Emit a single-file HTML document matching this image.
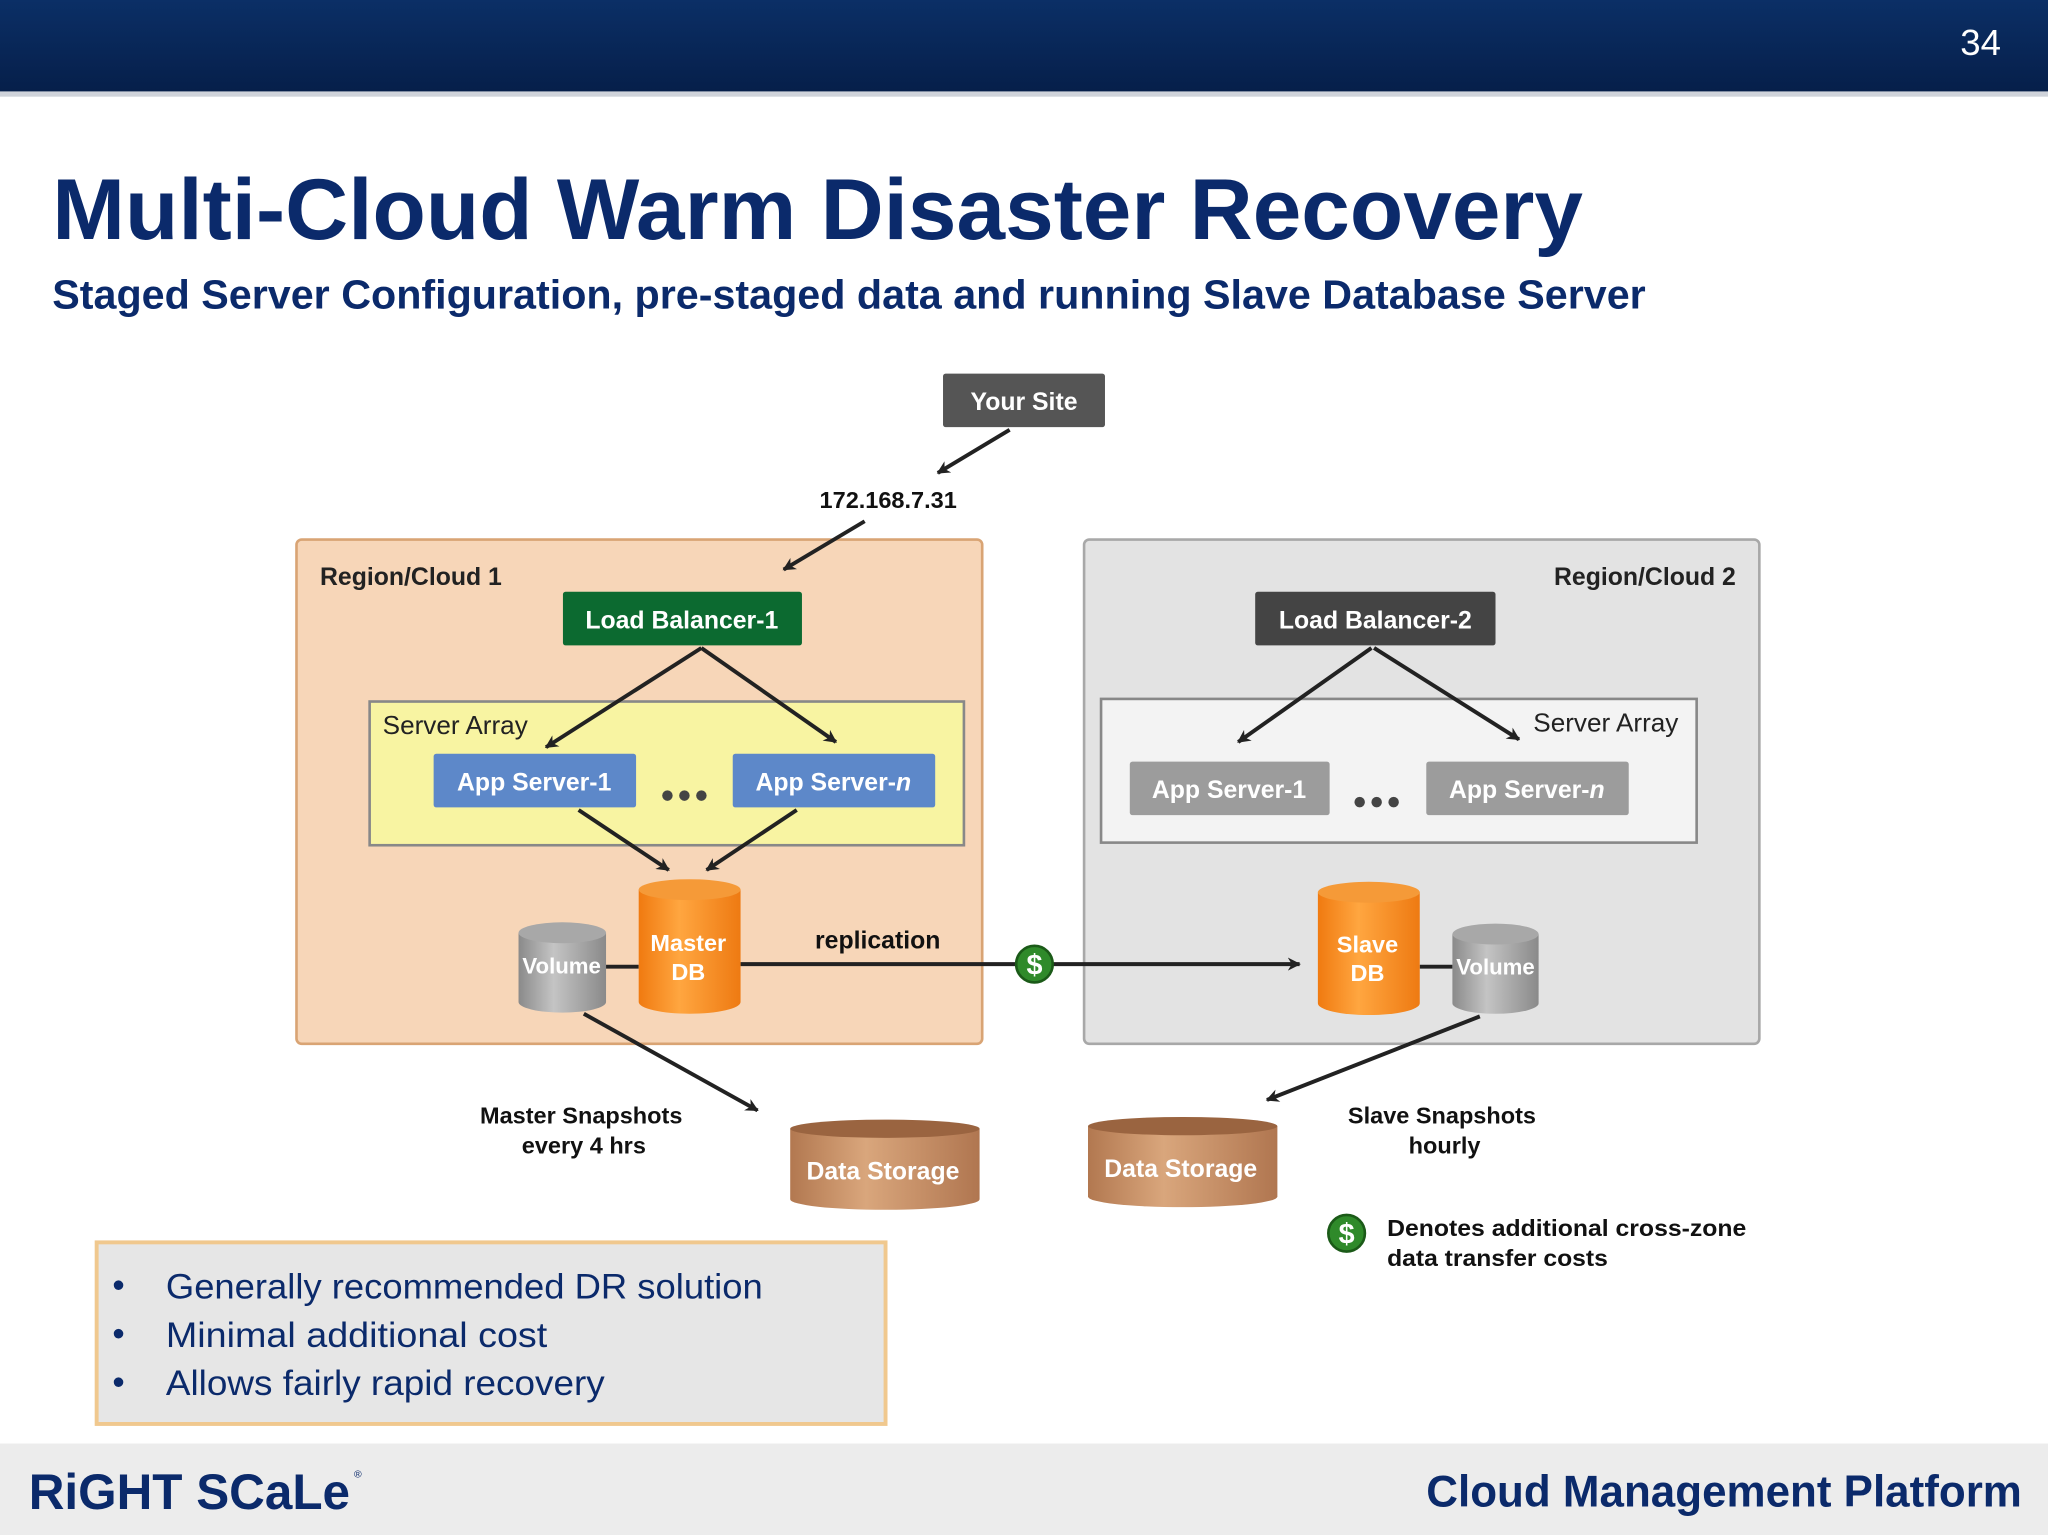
<!DOCTYPE html>
<html><head><meta charset="utf-8"><style>
html,body{margin:0;padding:0;background:#fff;}
svg{display:block;}
text{font-family:"Liberation Sans",sans-serif;}
</style></head><body>
<svg width="2048" height="1535" viewBox="0 0 1568 1175" preserveAspectRatio="none" xmlns="http://www.w3.org/2000/svg">
<defs>
<marker id="ah" markerWidth="10" markerHeight="10" refX="9" refY="5" orient="auto" markerUnits="userSpaceOnUse" viewBox="0 0 10 10">
<path d="M0,0 L10,5 L0,10 L3,5 z" fill="#222"/></marker>
<linearGradient id="org" x1="0" x2="1"><stop offset="0" stop-color="#f07a10"/><stop offset="0.4" stop-color="#ffa640"/><stop offset="1" stop-color="#ee7a12"/></linearGradient>
<linearGradient id="gry" x1="0" x2="1"><stop offset="0" stop-color="#8a8a8a"/><stop offset="0.4" stop-color="#c4c4c4"/><stop offset="1" stop-color="#8a8a8a"/></linearGradient>
<linearGradient id="brn" x1="0" x2="1"><stop offset="0" stop-color="#b27850"/><stop offset="0.4" stop-color="#d9a67c"/><stop offset="1" stop-color="#b07650"/></linearGradient>
<linearGradient id="bar" x1="0" y1="0" x2="0" y2="1"><stop offset="0" stop-color="#0b2f66"/><stop offset="1" stop-color="#061f4a"/></linearGradient>
</defs>
<rect x="0" y="0" width="1568" height="70" fill="url(#bar)"/>
<rect x="0" y="70" width="1568" height="4" fill="#cfd3da"/>
<text x="1532" y="42" font-size="28" fill="#fff" text-anchor="end">34</text>
<text x="40" y="183" font-size="66" font-weight="bold" fill="#0b2a6b" textLength="1172" lengthAdjust="spacingAndGlyphs">Multi-Cloud Warm Disaster Recovery</text>
<text x="40" y="236" font-size="31" font-weight="bold" fill="#0b2a6b" textLength="1220" lengthAdjust="spacingAndGlyphs">Staged Server Configuration, pre-staged data and running Slave Database Server</text>

<rect x="227" y="413" width="525" height="386" rx="4" fill="#f7d6b8" stroke="#d9a474" stroke-width="2"/>
<rect x="830" y="413" width="517" height="386" rx="4" fill="#e3e3e3" stroke="#a8a8a8" stroke-width="2"/>
<text x="245" y="448" font-size="19" font-weight="bold" fill="#222">Region/Cloud 1</text>
<text x="1329" y="448" font-size="19" font-weight="bold" fill="#222" text-anchor="end">Region/Cloud 2</text>

<rect x="722" y="286" width="124" height="41" rx="2" fill="#555"/>
<text x="784" y="314" font-size="19" font-weight="bold" fill="#fff" text-anchor="middle">Your Site</text>
<line x1="773" y1="329" x2="718" y2="362" stroke="#222" stroke-width="3" marker-end="url(#ah)"/>
<text x="680" y="389" font-size="18" font-weight="bold" fill="#111" text-anchor="middle">172.168.7.31</text>
<line x1="662" y1="399" x2="600" y2="436" stroke="#222" stroke-width="3" marker-end="url(#ah)"/>

<rect x="283" y="537" width="455" height="110" fill="#f8f4a2" stroke="#888" stroke-width="2"/>
<text x="293" y="562" font-size="20" fill="#222">Server Array</text>
<rect x="843" y="535" width="456" height="110" fill="#f3f3f3" stroke="#888" stroke-width="2"/>
<text x="1285" y="560" font-size="20" fill="#222" text-anchor="end">Server Array</text>

<rect x="431" y="453" width="183" height="41" rx="2" fill="#0c6a30"/>
<text x="522" y="481" font-size="19" font-weight="bold" fill="#fff" text-anchor="middle">Load Balancer-1</text>
<rect x="961" y="453" width="184" height="41" rx="2" fill="#444"/>
<text x="1053" y="481" font-size="19" font-weight="bold" fill="#fff" text-anchor="middle">Load Balancer-2</text>

<g stroke="#222" stroke-width="3">
<line x1="537" y1="496" x2="418" y2="572" marker-end="url(#ah)"/>
<line x1="537" y1="496" x2="640" y2="568" marker-end="url(#ah)"/>
<line x1="1050" y1="496" x2="948" y2="568" marker-end="url(#ah)"/>
<line x1="1052" y1="496" x2="1163" y2="566" marker-end="url(#ah)"/>
<line x1="443" y1="620" x2="512" y2="666" marker-end="url(#ah)"/>
<line x1="610" y1="620" x2="541" y2="666" marker-end="url(#ah)"/>
</g>

<rect x="332" y="577" width="155" height="41" rx="2" fill="#5d88c9"/>
<text x="409" y="605" font-size="19" font-weight="bold" fill="#fff" text-anchor="middle">App Server-1</text>
<rect x="561" y="577" width="155" height="41" rx="2" fill="#5d88c9"/>
<text x="638" y="605" font-size="19" font-weight="bold" fill="#fff" text-anchor="middle">App Server-<tspan font-style="italic">n</tspan></text>
<g fill="#444"><circle cx="511" cy="609" r="4"/><circle cx="524" cy="609" r="4"/><circle cx="537" cy="609" r="4"/>
<circle cx="1041" cy="614" r="4"/><circle cx="1054" cy="614" r="4"/><circle cx="1067" cy="614" r="4"/></g>
<rect x="865" y="583" width="153" height="41" rx="2" fill="#9c9c9c"/>
<text x="941" y="611" font-size="19" font-weight="bold" fill="#fff" text-anchor="middle">App Server-1</text>
<rect x="1092" y="583" width="155" height="41" rx="2" fill="#9c9c9c"/>
<text x="1169" y="611" font-size="19" font-weight="bold" fill="#fff" text-anchor="middle">App Server-<tspan font-style="italic">n</tspan></text>

<line x1="464" y1="740" x2="489" y2="740" stroke="#222" stroke-width="3"/>
<line x1="1087" y1="740" x2="1112" y2="740" stroke="#222" stroke-width="3"/>
<line x1="567" y1="738" x2="995" y2="738" stroke="#222" stroke-width="3" marker-end="url(#ah)"/>
<text x="672" y="726" font-size="19" font-weight="bold" fill="#111" text-anchor="middle">replication</text>
<circle cx="792" cy="738" r="14" fill="#2f8a2a" stroke="#1b5a18" stroke-width="2"/>
<text x="792" y="746" font-size="22" font-weight="bold" fill="#fff" text-anchor="middle">$</text>

<g>
<path d="M397,714 L397,767 A33,8 0 0 0 464,767 L464,714 Z" fill="url(#gry)"/>
<ellipse cx="430.5" cy="714" rx="33.5" ry="8" fill="#a8a8a8"/>
<text x="430" y="745" font-size="17" font-weight="bold" fill="#fff" text-anchor="middle">Volume</text>
<path d="M489,681 L489,767 A39,9 0 0 0 567,767 L567,681 Z" fill="url(#org)"/>
<ellipse cx="528" cy="681" rx="39" ry="8" fill="#f59a38"/>
<text x="527" y="728" font-size="18" font-weight="bold" fill="#fff" text-anchor="middle">Master</text>
<text x="527" y="750" font-size="18" font-weight="bold" fill="#fff" text-anchor="middle">DB</text>
<path d="M1009,683 L1009,768 A39,9 0 0 0 1087,768 L1087,683 Z" fill="url(#org)"/>
<ellipse cx="1048" cy="683" rx="39" ry="8" fill="#f59a38"/>
<text x="1047" y="729" font-size="18" font-weight="bold" fill="#fff" text-anchor="middle">Slave</text>
<text x="1047" y="751" font-size="18" font-weight="bold" fill="#fff" text-anchor="middle">DB</text>
<path d="M1112,715 L1112,768 A33,8 0 0 0 1178,768 L1178,715 Z" fill="url(#gry)"/>
<ellipse cx="1145" cy="715" rx="33" ry="8" fill="#a8a8a8"/>
<text x="1145" y="746" font-size="17" font-weight="bold" fill="#fff" text-anchor="middle">Volume</text>
<path d="M605,864 L605,918 A72,8 0 0 0 750,918 L750,864 Z" fill="url(#brn)"/>
<ellipse cx="677.5" cy="864" rx="72.5" ry="7" fill="#9a6440"/>
<text x="676" y="903" font-size="19" font-weight="bold" fill="#fff" text-anchor="middle">Data Storage</text>
<path d="M833,862 L833,916 A72,8 0 0 0 978,916 L978,862 Z" fill="url(#brn)"/>
<ellipse cx="905.5" cy="862" rx="72.5" ry="7" fill="#9a6440"/>
<text x="904" y="901" font-size="19" font-weight="bold" fill="#fff" text-anchor="middle">Data Storage</text>
</g>

<line x1="447" y1="776" x2="580" y2="850" stroke="#222" stroke-width="3" marker-end="url(#ah)"/>
<line x1="1133" y1="778" x2="970" y2="842" stroke="#222" stroke-width="3" marker-end="url(#ah)"/>
<text x="445" y="860" font-size="18" font-weight="bold" fill="#111" text-anchor="middle">Master Snapshots</text>
<text x="447" y="883" font-size="18" font-weight="bold" fill="#111" text-anchor="middle">every 4 hrs</text>
<text x="1104" y="860" font-size="18" font-weight="bold" fill="#111" text-anchor="middle">Slave Snapshots</text>
<text x="1106" y="883" font-size="18" font-weight="bold" fill="#111" text-anchor="middle">hourly</text>

<circle cx="1031" cy="944" r="14" fill="#2f8a2a" stroke="#1b5a18" stroke-width="2"/>
<text x="1031" y="952" font-size="22" font-weight="bold" fill="#fff" text-anchor="middle">$</text>
<text x="1062" y="946" font-size="18" font-weight="bold" fill="#111" textLength="275" lengthAdjust="spacingAndGlyphs">Denotes additional cross-zone</text>
<text x="1062" y="969" font-size="18" font-weight="bold" fill="#111" textLength="169" lengthAdjust="spacingAndGlyphs">data transfer costs</text>

<rect x="74" y="951" width="604" height="139" fill="#e6e6e6" stroke="#f0c88e" stroke-width="3"/>
<g font-size="27" fill="#0b2a6b">
<text x="86" y="993">•</text><text x="127" y="994" textLength="457" lengthAdjust="spacingAndGlyphs">Generally recommended DR solution</text>
<text x="86" y="1030">•</text><text x="127" y="1031" textLength="292" lengthAdjust="spacingAndGlyphs">Minimal additional cost</text>
<text x="86" y="1067">•</text><text x="127" y="1068" textLength="336" lengthAdjust="spacingAndGlyphs">Allows fairly rapid recovery</text>
</g>

<rect x="0" y="1105" width="1568" height="70" fill="#ececec"/>
<text x="22" y="1155" font-size="38" font-weight="bold" fill="#0b2a6b" textLength="246" lengthAdjust="spacingAndGlyphs">RiGHT SCaLe</text>
<text x="271" y="1131" font-size="8" fill="#0b2a6b">®</text>
<text x="1548" y="1153" font-size="34" font-weight="bold" fill="#0b2a6b" text-anchor="end" textLength="456" lengthAdjust="spacingAndGlyphs">Cloud Management Platform</text>
</svg>
</body></html>
